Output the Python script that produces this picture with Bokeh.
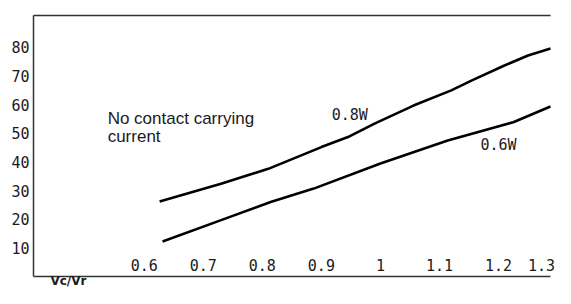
from bokeh.plotting import figure
from bokeh.models import Range1d, FixedTicker, Label, LabelSet, ColumnDataSource
from bokeh.core.properties import value
from bokeh.embed import file_html
from bokeh.resources import INLINE

# ---- data ----
x_ticks = [0.6, 0.7, 0.8, 0.9, 1.0, 1.1, 1.2, 1.3]
x_tick_labels = ["0.6", "0.7", "0.8", "0.9", "1", "1.1", "1.2", "1.3"]
y_ticks = [10, 20, 30, 40, 50, 60, 70, 80]

vr_08w = [0.626, 0.73, 0.81, 0.90, 0.945, 0.99, 1.056, 1.12, 1.155, 1.21, 1.25, 1.288]
val_08w = [26.2, 32.4, 37.6, 45.2, 48.7, 53.4, 59.7, 65.0, 68.5, 73.7, 77.2, 79.6]

vr_06w = [0.631, 0.729, 0.814, 0.887, 1.0, 1.114, 1.225, 1.288]
val_06w = [12.2, 19.6, 26.0, 30.7, 39.5, 47.5, 53.9, 59.4]

series_names = ["0.8W", "0.6W"]
note_lines = ["No contact carrying", "current"]
x_title = "Vc/Vr"

# ---- layout / style ----
X_START, X_END = 0.4124, 1.2965     # visible x range of the frame
BOX_RIGHT = 1.288                    # where the drawn box lines stop
Y_START, Y_END = -4.19, 91.16
MONO = "DejaVu Sans Mono"
SANS = "Liberation Sans"
INK = "#1a1a1a"
FRAME = "#333333"

p = figure(width=555, height=288, output_backend="svg", toolbar_location=None,
           x_range=Range1d(X_START, X_END), y_range=Range1d(Y_START, Y_END),
           x_axis_location="above",
           min_border_left=33, min_border_right=0, min_border_top=15, min_border_bottom=0)
p.background_fill_color = "white"
p.border_fill_color = "white"
p.outline_line_color = None
p.xgrid.visible = False
p.ygrid.visible = False

# left axis
p.yaxis.ticker = FixedTicker(ticks=y_ticks)
p.yaxis.bounds = (0, Y_END)
p.yaxis.major_tick_out = 0
p.yaxis.major_tick_in = 0
p.yaxis.minor_tick_out = 0
p.yaxis.minor_tick_in = 0
p.yaxis.axis_line_color = FRAME
p.yaxis.axis_line_width = 1.5
p.yaxis.major_label_standoff = 4
p.yaxis.major_label_text_font = MONO
p.yaxis.major_label_text_font_size = "15px"
p.yaxis.major_label_text_color = INK

# top border (axis above, no ticks)
p.xaxis.ticker = FixedTicker(ticks=[])
p.xaxis.bounds = (X_START, BOX_RIGHT)
p.xaxis.major_tick_out = 0
p.xaxis.minor_tick_out = 0
p.xaxis.axis_line_color = FRAME
p.xaxis.axis_line_width = 1.5

# bottom border line at value 0
p.line([X_START, BOX_RIGHT], [0, 0], line_color=FRAME, line_width=1.5)

# curves
p.line(vr_08w, val_08w, line_color="black", line_width=2.6)
p.line(vr_06w, val_06w, line_color="black", line_width=2.6)

# x tick labels just above the bottom line
dx = [0] * (len(x_ticks) - 1) + [-16]
src = ColumnDataSource(dict(x=x_ticks, y=[1.75] * len(x_ticks), t=x_tick_labels, dx=dx))
p.add_layout(LabelSet(x="x", y="y", text="t", x_offset="dx", source=src,
                      text_align="center", text_baseline="alphabetic",
                      text_font=value(MONO), text_font_size="15px", text_color=INK))

# series labels
p.add_layout(Label(x=0.948, y=56.4, text=series_names[0], text_align="center",
                   text_baseline="alphabetic", text_font=MONO, text_font_size="15px",
                   text_color=INK))
p.add_layout(Label(x=1.200, y=46.0, text=series_names[1], text_align="center",
                   text_baseline="alphabetic", text_font=MONO, text_font_size="15px",
                   text_color=INK))

# note
p.add_layout(Label(x=0.538, y=55.2, text=note_lines[0], text_baseline="alphabetic",
                   text_font=SANS, text_font_size="17px", text_color=INK))
p.add_layout(Label(x=0.538, y=49.0, text=note_lines[1], text_baseline="alphabetic",
                   text_font=SANS, text_font_size="17px", text_color=INK))

# x title below the box
p.add_layout(Label(x=0.441, y=-1.6, text=x_title, text_baseline="alphabetic",
                   text_font="DejaVu Sans", text_font_style="bold", text_font_size="12px",
                   text_color=INK))

open("out.html", "w").write(file_html(p, INLINE))
